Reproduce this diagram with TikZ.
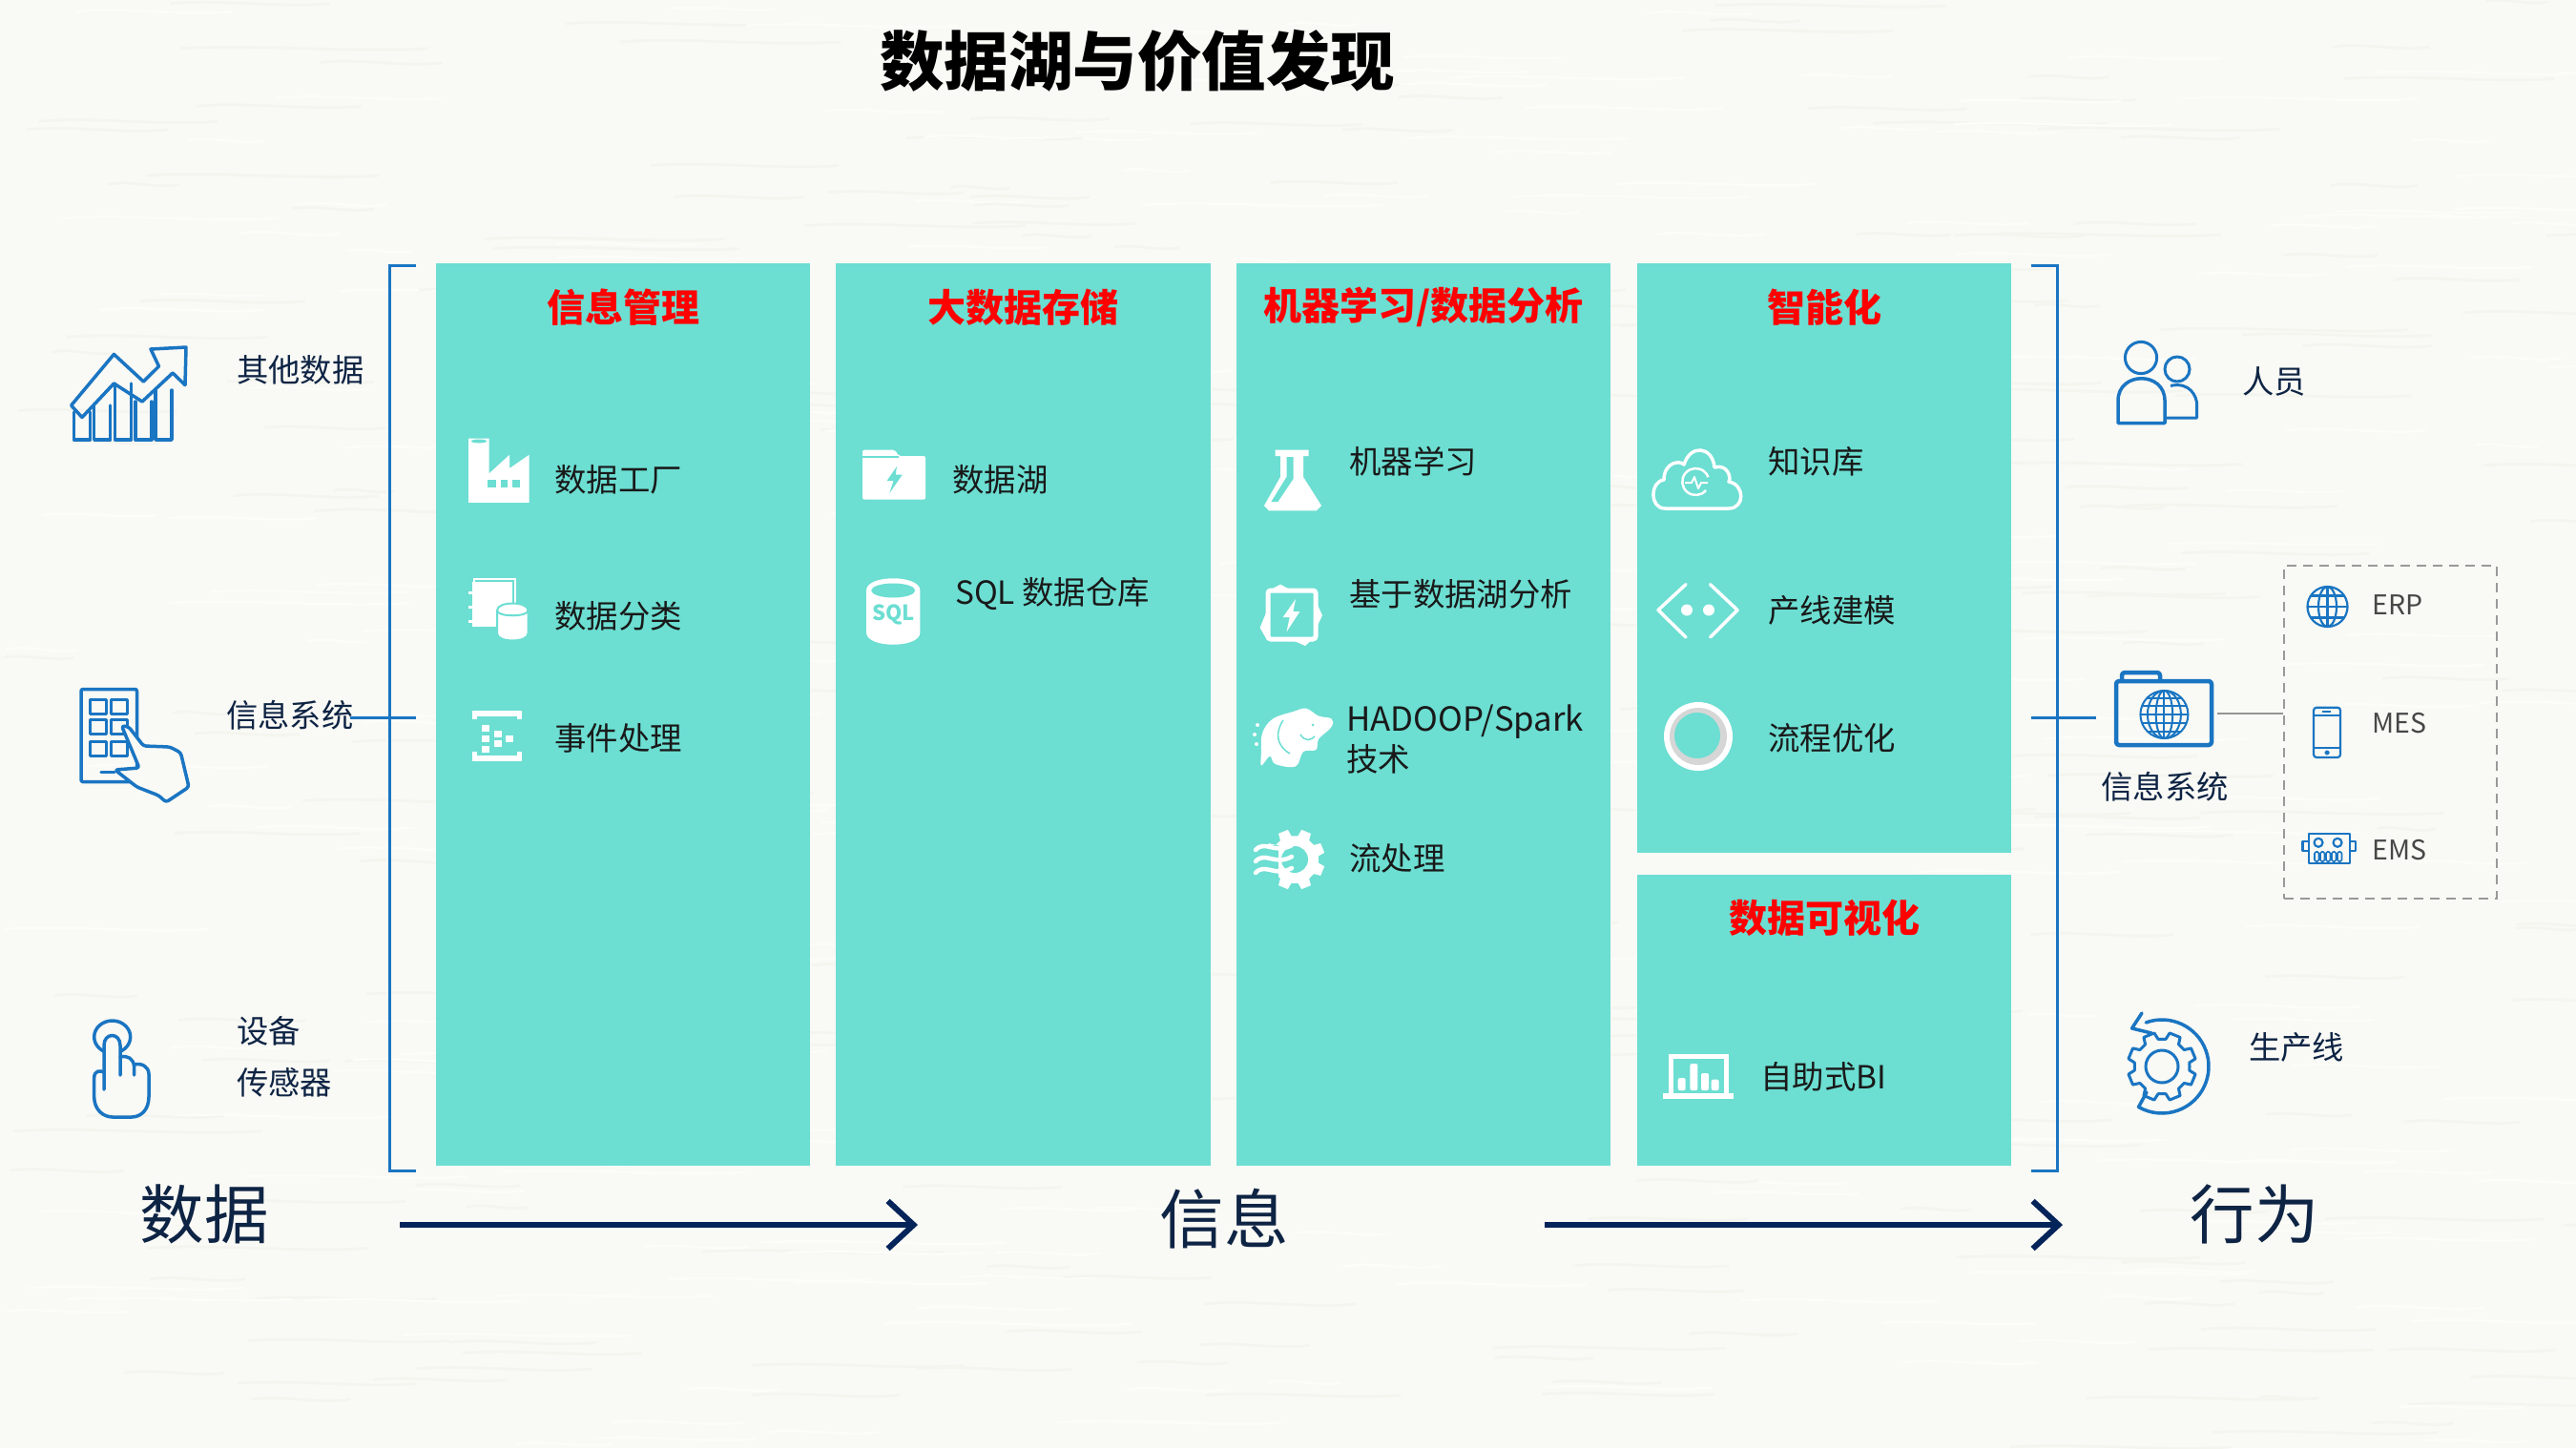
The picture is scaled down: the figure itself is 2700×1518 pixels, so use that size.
\documentclass[tikz,border=0pt]{standalone}
\usepackage{fontspec}
\setmainfont{Noto Sans CJK SC}
\usetikzlibrary{arrows.meta}
\definecolor{paperbg}{HTML}{F9F9F5}
\definecolor{fibrelight}{HTML}{FCFCF9}
\definecolor{fibredark}{HTML}{F5F5EF}
\definecolor{panelteal}{HTML}{6CDED2}
\definecolor{iconblue}{HTML}{1A75C2}
\definecolor{navyline}{HTML}{04245A}
\definecolor{labelnavy}{HTML}{0E2444}
\tikzset{
panel/.style={fill=panelteal},
headtext/.style={inner sep=0pt,text=red,font=\fontsize{40}{48}\selectfont\bfseries},
itemtext/.style={inner sep=0pt,anchor=west,yshift=-1pt,text=black!90,font=\fontsize{33.4}{40}\selectfont},
sidetext/.style={inner sep=0pt,anchor=west,yshift=-1pt,text=labelnavy,font=\fontsize{33.3}{40}\selectfont},
erptext/.style={inner sep=0pt,anchor=west,yshift=-1pt,text=black!72,font=\fontsize{28.5}{32}\selectfont},
bigtext/.style={inner sep=0pt,yshift=-1pt,text=labelnavy,font=\fontsize{67.5}{78}\selectfont},
bracket/.style={draw=iconblue,line width=3pt},
flowarrow/.style={draw=navyline,line width=6pt,-{Straight Barb[length=27pt,width=50pt,line width=6pt]}},
iconline/.style={draw=iconblue,line width=3.5pt,line join=round,line cap=round},
thinline/.style={draw=iconblue,line width=2.2pt,line join=round},
whiteicon/.style={fill=white,draw=none},
whiteline/.style={draw=white,line width=3.5pt,line join=round,line cap=round},
tealfill/.style={fill=panelteal,draw=none}
}
\newcommand{\gearpath}[2]{(0:#1) \foreach \a in {0,45,...,315} { -- ({\a+8}:#1) -- ({\a+13}:#2) -- ({\a+32}:#2) -- ({\a+37}:#1) } -- cycle}
\begin{document}
\begin{tikzpicture}[x=1pt,y=-1pt]
\useasboundingbox (0,0) rectangle (2700,1518);
\fill[paperbg] (0,0) rectangle (2700,1518);
% paper fibres
\pgfmathsetseed{2718}
\foreach \i in {1,...,520} {
\pgfmathsetmacro{\fx}{rnd*2700}
\pgfmathsetmacro{\fy}{rnd*1518}
\pgfmathsetmacro{\fl}{60+rnd*200}
\pgfmathsetmacro{\fc}{ifthenelse(rnd>0.5,1,0)}
\ifdim\fc pt>0.5pt\def\fcol{fibrelight}\else\def\fcol{fibredark}\fi
\draw[\fcol,line width=2.5pt] (\fx,\fy) .. controls (\fx+\fl*0.3,\fy-5) and (\fx+\fl*0.7,\fy+5) .. (\fx+\fl,\fy);
}
\node[inner sep=0pt,font=\fontsize{67.5}{78}\selectfont\bfseries] (maintitle) at (1192,64) {数据湖与价值发现};

% panels
\foreach \px/\py/\pw/\ph in {457/276/392/946,876/276/393/946,1296/276/392/946,1716/276/392/618,1716/917/392/305} {
\fill[panel] (\px,\py) rectangle ++(\pw,\ph);
}
\node[headtext] (headmanage) at (653,322) {信息管理};
\node[headtext] (headstore) at (1072,322) {大数据存储};
\node[headtext] (headml) at (1492,322) {机器学习/数据分析};
\node[headtext] (headsmart) at (1912,322) {智能化};
\node[headtext] (headvis) at (1912,962) {数据可视化};

\node[itemtext] (factory) at (581,502) {数据工厂};
\node[itemtext] (classify) at (581,645) {数据分类};
\node[itemtext] (events) at (581,773) {事件处理};
\node[itemtext] (lake) at (998,502) {数据湖};
\node[itemtext] (sqlstore) at (1001,622) {SQL 数据仓库};
\node[itemtext] (mllearn) at (1414,483) {机器学习};
\node[itemtext] (lakeana) at (1414,622) {基于数据湖分析};
\node[itemtext,font=\fontsize{34.8}{40}\selectfont] (hadoop) at (1411,756) {HADOOP/Spark};
\node[itemtext] (hadooptech) at (1411,795) {技术};
\node[itemtext] (stream) at (1414,899) {流处理};
\node[itemtext] (knowledge) at (1853,483) {知识库};
\node[itemtext] (linemodel) at (1853,639) {产线建模};
\node[itemtext] (flowopt) at (1853,773) {流程优化};
\node[itemtext] (selfbi) at (1845,1128) {自助式BI};

\node[sidetext] (otherdata) at (248,387) {其他数据};
\node[sidetext] (infoleft) at (237,749) {信息系统};
\node[sidetext] (device) at (248,1080) {设备};
\node[sidetext] (sensor) at (248,1134) {传感器};
\node[sidetext] (people) at (2350,399) {人员};
\node[sidetext,anchor=center] (inforight) at (2269,824) {信息系统};
\node[sidetext] (prodline) at (2357,1097) {生产线};
\node[erptext] (erp) at (2486,633) {ERP};
\node[erptext] (mes) at (2486,757) {MES};
\node[erptext] (ems) at (2486,890) {EMS};
\node[bigtext] (bigdata) at (214,1272) {数据};
\node[bigtext] (biginfo) at (1283,1277) {信息};
\node[bigtext] (bigact) at (2363,1272) {行为};

% brackets and connectors
\draw[bracket] (436,278) -- (408,278) -- (408,1227) -- (436,1227);
\draw[bracket] (2129,278) -- (2156,278) -- (2156,1227) -- (2129,1227);
\coordinate (stubla) at (367,752);
\coordinate (stublb) at (436,752);
\coordinate (stubra) at (2129,752);
\coordinate (stubrb) at (2197,752);
\draw[bracket] (stubla) -- (stublb);
\draw[bracket] (stubra) -- (stubrb);
\coordinate (flowa) at (419,1284);
\coordinate (flowb) at (962,1284);
\coordinate (flowc) at (1619,1284);
\coordinate (flowd) at (2162,1284);
\draw[flowarrow] (flowa) -- (flowb);
\draw[flowarrow] (flowc) -- (flowd);
\node[draw=black!40,dash pattern=on 10pt off 7pt,line width=2pt,inner sep=0pt,minimum width=223pt,minimum height=349pt] (erpbox) at (2505.5,767.5) {};
\coordinate (folderout) at (2324,748);
\draw[black!42,line width=2pt] (folderout) -- (folderout -| erpbox.west);

% chart icon
\foreach \bx/\bt in {77.5/432,98.7/425,120.5/402,141.8/421,163/409} {
\draw[iconline] (\bx,\bt) -- (\bx,461) -- ++(17,0) -- (\bx+17,\bt);
}
\draw[iconline] (74.6,425) -- (119.4,371.4) -- (150.4,400) -- (166.5,384) -- (158,366) -- (195,364) -- (194,403.6) -- (181,391) -- (149,421) -- (119.4,402) -- (86,437.5) -- cycle;

% tablet and hand icon
\draw[iconline,rounded corners=2pt] (85,722.5) rectangle (143.5,819.6);
\foreach \cx in {94.7,116.5} {
\foreach \cy in {733,754,777} {
\draw[thinline,line width=3pt] (\cx,\cy) rectangle ++(17,15);
}
}
\draw[iconline] (106,809.6) -- (120,809.6);
\draw[iconline,fill=paperbg,rounded corners=3pt] (127.4,760.7) -- (135,762) -- (150.4,782) -- (178,783) -- (189.4,789) -- (198,825) -- (174,841) -- (166.5,834) -- (143.5,825) -- (120.5,807) -- (146,805) -- cycle;

% touch icon
\draw[iconline] (117.7,1087) ellipse (19 and 17);
\draw[iconline,fill=paperbg] (109,1142) -- (109,1096) .. controls (109,1082) and (126,1082) .. (126,1096) -- (126,1127);
\draw[iconline] (126,1108) .. controls (134,1106) and (140,1110) .. (140.6,1118) -- (140.6,1127);
\draw[iconline] (140.6,1116) .. controls (148,1114) and (156,1118) .. (156,1126) -- (156,1150) .. controls (156,1163) and (148,1171) .. (138,1171) -- (118,1171) .. controls (108,1171) and (98.7,1163) .. (98.7,1150) -- (98.7,1130) .. controls (98.7,1122) and (105,1122) .. (109,1124);

% factory icon
\fill[whiteicon] (491,459.6) -- (512.6,459.6) -- (512.6,496.4) -- (534,476.8) -- (534,491) -- (554.5,476.8) -- (554.5,526.8) -- (491,526.8) -- cycle;
\fill[tealfill] (502,462.5) ellipse (8 and 2);
\foreach \wx/\ww in {511/8.5,525/6.5,537/8} {
\fill[tealfill] (\wx,503) rectangle ++(\ww,7.7);
}

% notebook and cylinder icon
\draw[white,line width=1.5pt] (497,607) rectangle (540,650);
\fill[whiteicon] (495,610) rectangle (537,657);
\foreach \dy in {620,635,650} {
\fill[whiteicon] (491,\dy) rectangle ++(6,3);
}
\draw[panelteal,line width=2pt,fill=white] (521,640) -- (521,664) .. controls (521,674) and (553.5,674) .. (553.5,664) -- (553.5,640) .. controls (553.5,630) and (521,630) .. (521,640) -- cycle;
\draw[panelteal,line width=2pt] (521,640) .. controls (521,647) and (553.5,647) .. (553.5,640);

% event icon
\fill[whiteicon] (495,744.6) rectangle (546.5,750.7);
\fill[whiteicon] (495,744.6) rectangle (500,754);
\fill[whiteicon] (541.5,744.6) rectangle (546.5,754);
\fill[whiteicon] (495,792) rectangle (546.5,798);
\fill[whiteicon] (495,788) rectangle (500,798);
\fill[whiteicon] (541.5,788) rectangle (546.5,798);
\foreach \qx/\qy in {505/760,505/771,505/782,518/766,518/776,530/771} {
\fill[whiteicon] (\qx,\qy) rectangle ++(8,7);
}

% folder bolt icon
\fill[whiteicon,rounded corners=2pt] (904,471.6) -- (938,471.6) -- (942,478) -- (970,478) -- (970,523.7) -- (904,523.7) -- cycle;
\draw[panelteal,line width=1.5pt] (904,479) -- (942,479);
\fill[tealfill] (940,489) -- (929.6,504) -- (936.6,504) -- (932.3,517) -- (945.7,497.7) -- (938.7,497.7) -- cycle;

% sql icon
\fill[whiteicon] (908,619) -- (908,663) .. controls (908,680) and (964.4,680) .. (964.4,663) -- (964.4,619) .. controls (964.4,602) and (908,602) .. (908,619) -- cycle;
\fill[tealfill] (936.2,619) ellipse (23 and 7.5);
\node[inner sep=0pt,text=panelteal,font=\fontsize{22}{24}\selectfont\bfseries] (sqlmark) at (936.5,644) {SQL};

% flask icon
\fill[whiteicon] (1336.7,471.6) -- (1371.5,471.6) -- (1371.5,478) -- (1366,478) -- (1366,500) -- (1385,530) -- (1379.6,535.4) -- (1330,535.4) -- (1325,530) -- (1342,500) -- (1342,478) -- (1336.7,478) -- cycle;
\fill[tealfill] (1348.5,479) -- (1355.5,479) -- (1355.5,502) -- (1339.4,526) -- (1332.4,526) -- (1348.5,500) -- cycle;

% bolt frame icon
\fill[whiteicon] (1332,618) -- (1342,612.6) -- (1352,618) -- cycle;
\fill[whiteicon] (1352,670) -- (1368,677) -- (1376,670) -- cycle;
\fill[whiteicon] (1328,640) -- (1320.6,658) -- (1328,671) -- cycle;
\fill[whiteicon] (1379,630) -- (1386,645) -- (1379,660) -- cycle;
\draw[white,line width=5pt,fill=panelteal,rounded corners=3pt] (1329,619) rectangle (1379,670);
\fill[whiteicon] (1358,628) -- (1344.7,647) -- (1351.7,647) -- (1348.5,662.4) -- (1362.4,641) -- (1355.4,641) -- cycle;

% elephant icon
\fill[whiteicon] plot[smooth cycle,tension=0.6] coordinates {(1322,788) (1323,768.7) (1334,753.6) (1355.5,746) (1369,742.7) (1382,750.5) (1395.6,753.5) (1395.6,762) (1382,775) (1379.5,786) (1366,788) (1358,803.4) (1336.7,801) (1331,792.6) (1322,802.5)};
\foreach \ex/\ey in {1315/770,1317/780,1318/760} {
\fill[whiteicon] (\ex,\ey) circle (2);
}
\draw[panelteal,line width=1.5pt] (1345,755) .. controls (1336,768) and (1338,782) .. (1352,790);
\draw[panelteal,line width=1.5pt] (1363,770) .. controls (1368,778) and (1374,776) .. (1378,772);
\fill[tealfill] (1376,760) circle (1.5);

% stream gear icon
\begin{scope}[shift={(1357,901)}]
\fill[whiteicon] \gearpath{25}{32};
\fill[tealfill] (0,0) circle (14);
\end{scope}
\fill[tealfill] (1312,886) rectangle (1340,920);
\foreach \wy in {888,900,912} {
\draw[white,line width=4.5pt,line cap=round] (1316,\wy+3) .. controls (1326,\wy-8) and (1336,\wy+8) .. (1354,\wy-2);
}

% cloud icon
\draw[whiteline] (1745,533) .. controls (1729,533) and (1729,505) .. (1744,503) .. controls (1744,485) and (1760,482) .. (1765,487) .. controls (1772,465) and (1795,468) .. (1797,490) .. controls (1810,486) and (1815,500) .. (1812,505) .. controls (1829,508) and (1829,533) .. (1812,533) -- cycle;
\draw[white,line width=2.5pt] (1788,514) arc (40:340:14);
\draw[white,line width=2pt,line join=round] (1766,506) -- (1773,506) -- (1776,500) -- (1780,512) -- (1783,506) -- (1790,506);

% code icon
\draw[whiteline] (1767,612.6) -- (1738,639.5) -- (1767,668);
\draw[whiteline] (1792.5,612.6) -- (1821,639.5) -- (1792.5,668);
\foreach \dx in {1768,1791} {
\fill[whiteicon] (\dx,639.5) circle (6);
}

% ring icon
\fill[whiteicon] (1780,772) circle (36);
\fill[black!16] (1780,772) circle (30);
\fill[tealfill] (1779,771) circle (24);

% bi icon
\draw[white,line width=5pt] (1751,1147) -- (1751,1107.5) -- (1809,1107.5) -- (1809,1147);
\fill[whiteicon] (1743,1145.7) rectangle (1816.7,1151.7);
\foreach \bx/\bt in {1758.7/1130,1771.4/1115,1783/1125,1793.7/1131.7} {
\fill[whiteicon,rounded corners=2pt] (\bx,1143) rectangle (\bx+8,\bt);
}

% people icon
\draw[thinline,line width=3pt] (2244,375) circle (16.6);
\draw[thinline,line width=3pt] (2282,387) circle (13);
\draw[thinline,line width=3.5pt] (2220,443.5) -- (2220,420) .. controls (2220,389) and (2269,389) .. (2269,420) -- (2269,443.5) -- cycle;
\draw[thinline,line width=3pt] (2275,404.4) .. controls (2295,400) and (2302.7,415) .. (2302.7,425) -- (2302.7,438) -- (2270,438);

% folder globe icon
\draw[iconline,line width=4.5pt,rounded corners=3pt] (2224,713) -- (2224,705) -- (2264,705) -- (2264,713);
\draw[iconline,line width=4.5pt,rounded corners=3pt] (2218,714) rectangle (2318,781);
\begin{scope}[shift={(2268.4,749)}]
\draw[thinline,line width=2pt] (0,0) circle (25);
\draw[thinline,line width=2pt] (0,-25) -- (0,25);
\draw[thinline,line width=2pt] (-25,0) -- (25,0);
\foreach \k [evaluate=\k as \w using {sqrt(1-\k*\k)*25}] in {0.35,0.7} {
\draw[thinline,line width=2pt] (0,0) ellipse ({\k*25} and 25);
\draw[thinline,line width=2pt] (-\w,\k*25) -- (\w,\k*25);
\draw[thinline,line width=2pt] (-\w,-\k*25) -- (\w,-\k*25);
}
\end{scope}

% erp globe icon
\begin{scope}[shift={(2439.5,636)}]
\draw[thinline] (0,0) circle (21);
\draw[thinline] (0,0) ellipse (9.5 and 21);
\draw[thinline] (0,-21) -- (0,21);
\draw[thinline] (-21,0) -- (21,0);
\draw[thinline] (-17.6,-11.5) -- (17.6,-11.5);
\draw[thinline] (-17.6,11.5) -- (17.6,11.5);
\end{scope}

% phone icon
\draw[thinline,rounded corners=3pt] (2425,741.7) rectangle (2453,794);
\draw[thinline] (2425,750) -- (2453,750);
\draw[thinline] (2425,784) -- (2453,784);
\draw[thinline] (2434,745.8) -- (2443,745.8);
\draw[thinline] (2439,789) circle (1.7);

% ems icon
\draw[thinline] (2419.6,874) rectangle (2462.8,905);
\draw[thinline] (2430,883.3) circle (4.5);
\draw[thinline] (2450,883.3) circle (4.5);
\draw[thinline] (2413.5,882) rectangle (2419.6,892);
\draw[thinline] (2462.8,882) rectangle (2469,892);
\foreach \mx in {2426,2432,2438,2444,2450} {
\draw[thinline,line width=1.6pt,rounded corners=1.5pt] (\mx,893) rectangle ++(4.5,10);
}

% line gear icon
\begin{scope}[shift={(2266,1118)}]
\draw[iconline,line width=3pt] (0,0) circle (17);
\draw[iconline,line width=3pt] \gearpath{29}{36};
\draw[iconline] (-110:49) arc (-110:120:49) -- (-16,27);
\draw[iconline] (-21,-56) -- (-31.5,-40) -- (-11,-35);
\end{scope}
\end{tikzpicture}
\end{document}
